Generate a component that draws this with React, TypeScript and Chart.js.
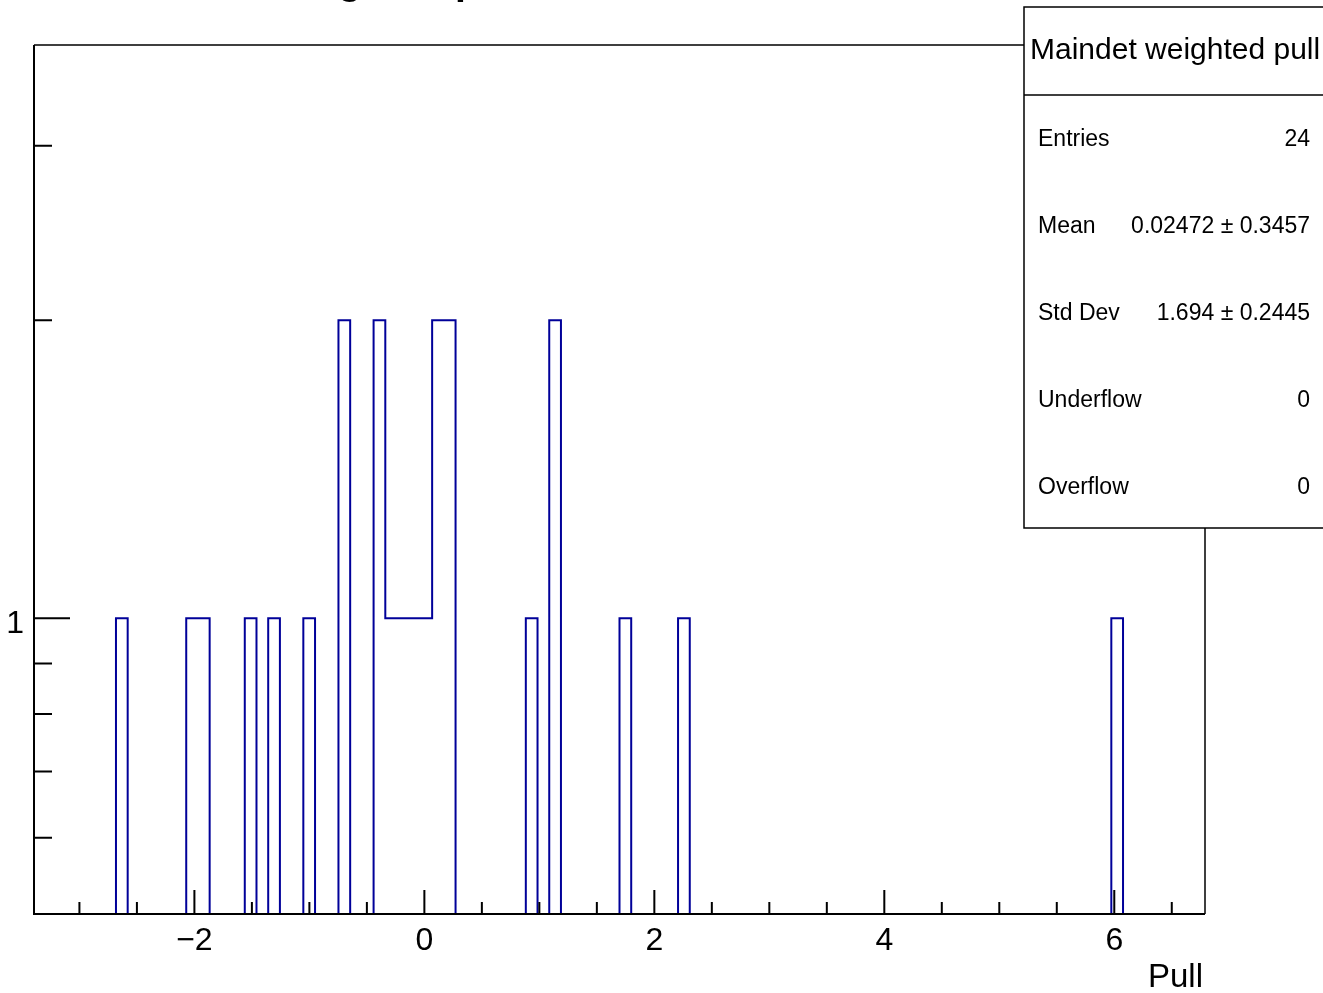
import React, { useEffect, useRef } from "react";
import { Chart, registerables } from "chart.js";

Chart.register(...registerables);

// ---- data ----
const histTitle = "Maindet weighted pull";
const xAxisTitle = "Pull";
const xMin = -3.395;
const xMax = 6.789;
const nBins = 100;
// filled bins (index) and their contents
const binIndex = [7, 13, 14, 18, 20, 23, 26, 29, 30, 31, 32, 33, 34, 35, 42, 44, 50, 55, 92];
const binCount = [1, 1, 1, 1, 1, 1, 2, 2, 1, 1, 1, 1, 2, 2, 1, 2, 1, 1, 1];
const yMin = 0.5025;
const yMax = 3.793;
const xMajorTicks = [-2, 0, 2, 4, 6];
const xMajorLabels = ["\u22122", "0", "2", "4", "6"];
const xMinorTicks = [-3, -2.5, -1.5, -1, -0.5, 0.5, 1, 1.5, 2.5, 3, 3.5, 4.5, 5, 5.5, 6.5];
const yMajorTicks = [1];
const yMajorLabels = ["1"];
const yMinorTicks = [0.6, 0.7, 0.8, 0.9, 2, 3];
const statLabels = ["Entries", "Mean", "Std Dev", "Underflow", "Overflow"];
const statValues = ["24", "0.02472 \u00b1 0.3457", "1.694 \u00b1 0.2445", "0", "0"];

const W = 1323;
const H = 993;
const FONT = "'Liberation Sans', Arial, Helvetica, sans-serif";
const LINE_COLOR = "#000099";

function buildPoints() {
  const counts: number[] = new Array(nBins).fill(0);
  binIndex.forEach((b, i) => {
    counts[b] = binCount[i];
  });
  const w = (xMax - xMin) / nBins;
  const floor = 0.01; // empty bins, below the visible range
  const pts: { x: number; y: number }[] = [];
  pts.push({ x: xMin, y: floor });
  for (let i = 0; i < nBins; i++) {
    pts.push({ x: xMin + i * w, y: counts[i] > 0 ? counts[i] : floor });
  }
  pts.push({ x: xMax, y: counts[nBins - 1] > 0 ? counts[nBins - 1] : floor });
  pts.push({ x: xMax, y: floor });
  return pts;
}

const decorPlugin = {
  id: "rootDecor",
  afterDraw(chart: any) {
    const ctx = chart.ctx as CanvasRenderingContext2D;
    const a = chart.chartArea;
    const xs = chart.scales.x;
    const ys = chart.scales.y;
    ctx.save();

    // title (mostly above the canvas)
    ctx.fillStyle = "#000";
    ctx.font = `bold 39px ${FONT}`;
    ctx.textAlign = "left";
    ctx.textBaseline = "alphabetic";
    ctx.fillText(histTitle, 117, -6);

    // frame
    ctx.strokeStyle = "#000";
    ctx.lineWidth = 2;
    ctx.beginPath();
    ctx.moveTo(a.left, a.top);
    ctx.lineTo(a.left, a.bottom);
    ctx.lineTo(a.right, a.bottom);
    ctx.stroke();
    ctx.lineWidth = 1.5;
    ctx.beginPath();
    ctx.moveTo(a.left, a.top);
    ctx.lineTo(a.right, a.top);
    ctx.lineTo(a.right, a.bottom);
    ctx.stroke();

    // x ticks (inward)
    ctx.lineWidth = 2;
    ctx.beginPath();
    xMajorTicks.forEach((v) => {
      const px = xs.getPixelForValue(v);
      ctx.moveTo(px, a.bottom);
      ctx.lineTo(px, a.bottom - 24);
    });
    xMinorTicks.forEach((v) => {
      const px = xs.getPixelForValue(v);
      ctx.moveTo(px, a.bottom);
      ctx.lineTo(px, a.bottom - 12);
    });
    // y ticks (inward)
    yMajorTicks.forEach((v) => {
      const py = ys.getPixelForValue(v);
      ctx.moveTo(a.left, py);
      ctx.lineTo(a.left + 36, py);
    });
    yMinorTicks.forEach((v) => {
      const py = ys.getPixelForValue(v);
      ctx.moveTo(a.left, py);
      ctx.lineTo(a.left + 18, py);
    });
    ctx.stroke();

    // tick labels
    ctx.font = `32px ${FONT}`;
    ctx.textAlign = "center";
    ctx.textBaseline = "alphabetic";
    xMajorTicks.forEach((v, i) => {
      ctx.fillText(xMajorLabels[i], xs.getPixelForValue(v), a.bottom + 36);
    });
    ctx.textAlign = "right";
    yMajorTicks.forEach((v, i) => {
      ctx.fillText(yMajorLabels[i], a.left - 10, ys.getPixelForValue(v) + 15);
    });
    // axis title
    ctx.font = `33px ${FONT}`;
    ctx.textAlign = "right";
    ctx.fillText(xAxisTitle, a.right - 2, a.bottom + 73);

    // stats box
    const bx = 1024, by = 7, bb = 528, sep = 95;
    ctx.fillStyle = "#fff";
    ctx.fillRect(bx, by, W - bx + 10, bb - by);
    ctx.strokeStyle = "#000";
    ctx.lineWidth = 1.5;
    ctx.beginPath();
    ctx.moveTo(W + 5, by);
    ctx.lineTo(bx, by);
    ctx.lineTo(bx, bb);
    ctx.lineTo(W + 5, bb);
    ctx.moveTo(bx, sep);
    ctx.lineTo(W + 5, sep);
    ctx.stroke();

    ctx.fillStyle = "#000";
    ctx.font = `30px ${FONT}`;
    ctx.textAlign = "left";
    ctx.fillText(histTitle, 1030, 59);

    ctx.font = `23px ${FONT}`;
    const rowStart = 146;
    const rowStep = 87;
    statLabels.forEach((lab, i) => {
      const yb = rowStart + i * rowStep;
      ctx.textAlign = "left";
      ctx.fillText(lab, 1038, yb);
      ctx.textAlign = "right";
      ctx.fillText(statValues[i], 1310, yb);
    });

    ctx.restore();
  },
};

export default function App() {
  const ref = useRef<HTMLCanvasElement | null>(null);
  useEffect(() => {
    if (!ref.current) return;
    const chart = new Chart(ref.current, {
      type: "line",
      data: {
        datasets: [
          {
            data: buildPoints(),
            stepped: true,
            borderColor: LINE_COLOR,
            borderWidth: 2,
            pointRadius: 0,
            fill: false,
            tension: 0,
          },
        ],
      },
      options: {
        animation: false,
        responsive: false,
        devicePixelRatio: 1,
        parsing: false,
        layout: { padding: { left: 34, right: W - 1205, top: 45, bottom: H - 914 } },
        plugins: { legend: { display: false }, tooltip: { enabled: false }, title: { display: false } },
        scales: {
          x: { type: "linear", min: xMin, max: xMax, display: false },
          y: { type: "logarithmic", min: yMin, max: yMax, display: false },
        },
      } as any,
      plugins: [decorPlugin],
    });
    return () => chart.destroy();
  }, []);
  return (
    <div style={{ position: "absolute", left: 0, top: 0, width: W, height: H, background: "#fff" }}>
      <canvas ref={ref} width={W} height={H} style={{ display: "block", width: W, height: H }} />
    </div>
  );
}
